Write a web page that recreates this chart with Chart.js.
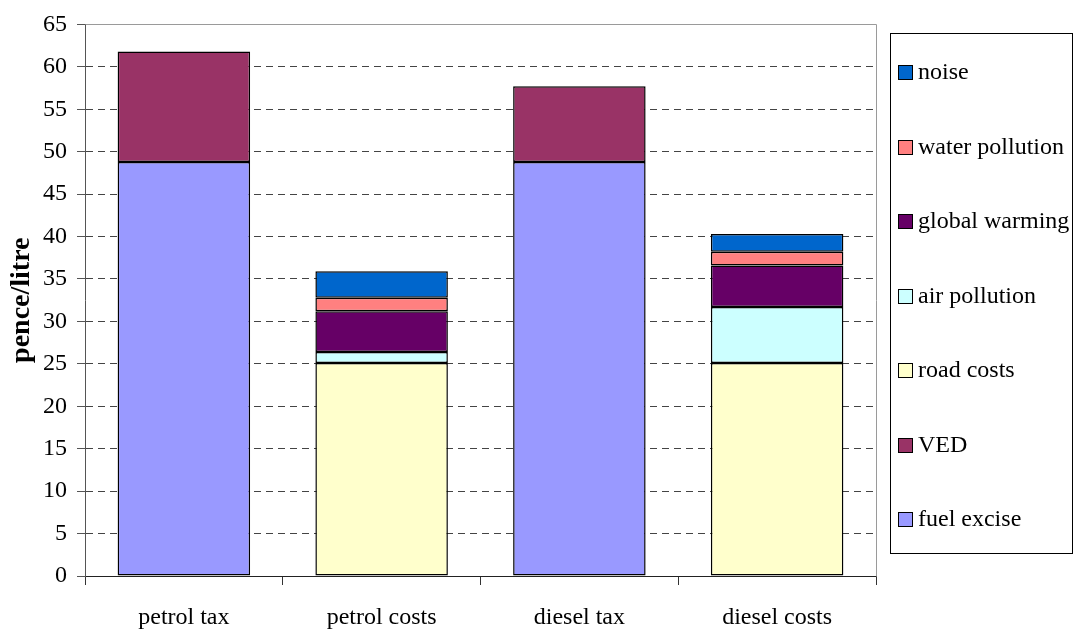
<!DOCTYPE html>
<html>
<head>
<meta charset="utf-8">
<script src="https://cdn.jsdelivr.net/npm/chart.js@4/dist/chart.umd.min.js"></script>
<style>
  html, body { margin: 0; padding: 0; background: #fff; }
  #wrap { width: 1074px; height: 632px; position: relative; }
</style>
</head>
<body>
<div id="wrap"><canvas id="costChart"></canvas></div>
<script>
const categories = ['petrol tax', 'petrol costs', 'diesel tax', 'diesel costs'];

// pence per litre, one entry per category (null = not part of that bar)
const fuelExcise     = [48.8, null, 48.8, null];
const ved            = [13.0, null, 8.9, null];
const roadCosts      = [null, 25.1, null, 25.1];
const airPollution   = [null, 1.3, null, 6.6];
const globalWarming  = [null, 4.8, null, 4.9];
const waterPollution = [null, 1.6, null, 1.6];
const noise          = [null, 3.1, null, 2.1];

const yTicks = { min: 0, max: 65, step: 5 };

const serif = '"Liberation Serif", "Times New Roman", serif';

function series(label, data, color) {
  return {
    label,
    data,
    backgroundColor: color,
    borderColor: '#000',
    borderWidth: 1.5,
    borderSkipped: false,
    barPercentage: 0.67,
    categoryPercentage: 1
  };
}

// grey frame on the top and right of the plot area
const plotFrame = {
  id: 'plotFrame',
  afterDraw(chart) {
    const { ctx, chartArea: a } = chart;
    ctx.save();
    ctx.strokeStyle = '#9a9a9a';
    ctx.lineWidth = 1;
    ctx.beginPath();
    ctx.moveTo(Math.round(a.left) + 0.5, Math.round(a.top) + 0.5);
    ctx.lineTo(Math.round(a.right) + 0.5, Math.round(a.top) + 0.5);
    ctx.lineTo(Math.round(a.right) + 0.5, Math.round(a.bottom) + 0.5);
    ctx.stroke();
    ctx.restore();
  }
};

// boxed legend on the right, top entry = top of the stack
const boxLegend = {
  id: 'boxLegend',
  afterDraw(chart) {
    const { ctx } = chart;
    const box = { x: 890.5, y: 33.5, w: 182, h: 520 };
    ctx.save();
    ctx.strokeStyle = '#000';
    ctx.lineWidth = 1;
    ctx.strokeRect(box.x, box.y, box.w, box.h);
    const items = chart.data.datasets.slice().reverse();
    const first = 72, gap = 74.5;
    ctx.font = '24px ' + serif;
    ctx.textBaseline = 'middle';
    items.forEach((ds, i) => {
      const cy = Math.round(first + i * gap);
      ctx.fillStyle = ds.backgroundColor;
      ctx.fillRect(898, cy - 7, 15, 15);
      ctx.strokeRect(898.5, cy - 6.5, 14, 14);
      ctx.fillStyle = '#000';
      ctx.fillText(ds.label, 918, cy + 1);
    });
    ctx.restore();
  }
};

new Chart(document.getElementById('costChart'), {
  type: 'bar',
  data: {
    labels: categories,
    datasets: [
      series('fuel excise', fuelExcise, '#9999FF'),
      series('VED', ved, '#993366'),
      series('road costs', roadCosts, '#FFFFCC'),
      series('air pollution', airPollution, '#CCFFFF'),
      series('global warming', globalWarming, '#660066'),
      series('water pollution', waterPollution, '#FF8080'),
      series('noise', noise, '#0066CC')
    ]
  },
  options: {
    responsive: true,
    maintainAspectRatio: false,
    animation: false,
    layout: { padding: { top: 23, right: 198, left: 0, bottom: 0 } },
    plugins: {
      legend: { display: false },
      tooltip: { enabled: false }
    },
    scales: {
      x: {
        stacked: true,
        afterFit(scale) { scale.height = 56; },
        grid: {
          offset: true,
          drawOnChartArea: false,
          drawTicks: true,
          tickLength: 9,
          tickColor: '#333'
        },
        border: { color: '#222', width: 1 },
        ticks: {
          color: '#000',
          padding: 18,
          maxRotation: 0,
          font: { family: serif, size: 24 }
        }
      },
      y: {
        stacked: true,
        min: yTicks.min,
        max: yTicks.max,
        afterFit(scale) { scale.width = 85; },
        grid: {
          color: '#444',
          lineWidth: 1,
          tickLength: 8,
          tickColor: '#555'
        },
        border: { color: '#555', width: 1, dash: [7, 5] },
        ticks: {
          stepSize: yTicks.step,
          color: '#000',
          padding: 10,
          font: { family: serif, size: 24 }
        },
        title: {
          display: true,
          text: 'pence/litre',
          color: '#000',
          padding: { top: 5, bottom: 0 },
          font: { family: serif, size: 28, weight: 'bold' }
        }
      }
    }
  },
  plugins: [plotFrame, boxLegend]
});
</script>
</body>
</html>
